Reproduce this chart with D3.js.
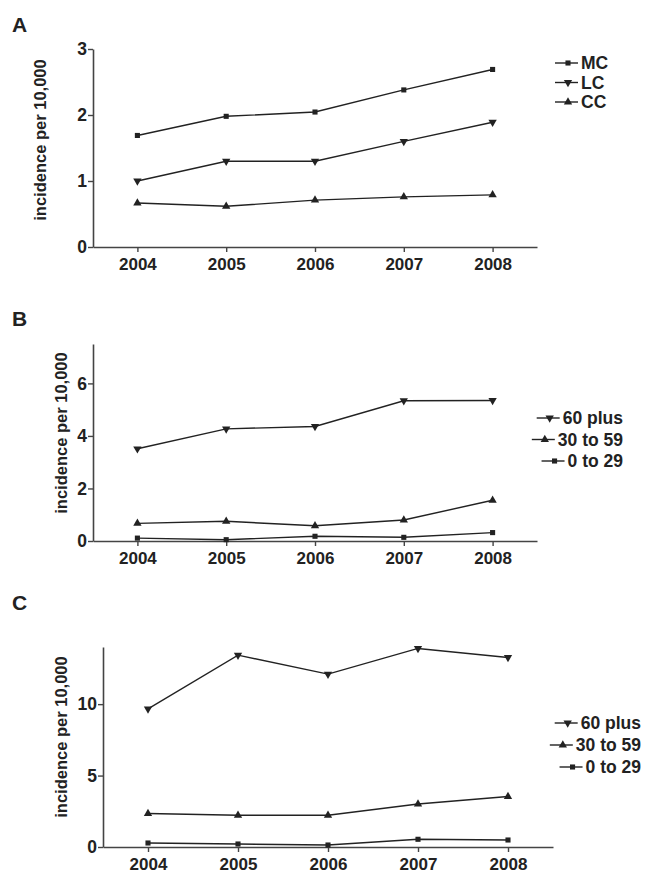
<!DOCTYPE html>
<html><head><meta charset="utf-8">
<script src="https://cdn.jsdelivr.net/npm/d3@7"></script>
<style>body{margin:0;background:#fff}svg{display:block}text{font-family:"Liberation Sans",Arial,sans-serif;font-weight:bold;fill:#222}</style>
</head><body><svg id="c" width="648" height="888"></svg>
<script>
const years = [2004, 2005, 2006, 2007, 2008];
// Panel A
const aMC = [1.69, 1.98, 2.045, 2.38, 2.69];
const aLC = [1.0, 1.30, 1.30, 1.60, 1.89];
const aCC = [0.667, 0.617, 0.71, 0.76, 0.79];
const aTicks = [0, 1, 2, 3];
// Panel B
const b60 = [3.51, 4.27, 4.36, 5.34, 5.35];
const b30 = [0.67, 0.75, 0.58, 0.80, 1.55];
const b0 = [0.11, 0.05, 0.18, 0.14, 0.32];
const bTicks = [0, 2, 4, 6];
// Panel C
const c60 = [9.67, 13.43, 12.1, 13.9, 13.27];
const c30 = [2.34, 2.22, 2.22, 3.01, 3.53];
const c0 = [0.28, 0.21, 0.14, 0.54, 0.49];
const cTicks = [0, 5, 10];
const yLabel = "incidence per 10,000";

const svg = d3.select("#c");
const ink = "#222";

function marker(type) {
  if (type === "square") return {p: d3.symbol(d3.symbolSquare, 26)(), r: 0};
  if (type === "up") return {p: d3.symbol(d3.symbolTriangle, 30)(), r: 0};
  return {p: d3.symbol(d3.symbolTriangle, 30)(), r: 180};
}

function panel(cfg) {
  const g = svg.append("g");
  const x = d3.scaleLinear().domain([2003.5, 2008.5]).range([cfg.x0, cfg.x1]);
  const y = d3.scaleLinear().domain([0, cfg.ymax]).range([cfg.y0, cfg.y1]);
  g.append("text").attr("x", 12).attr("y", cfg.labelY).attr("font-size", 21).text(cfg.label);
  const xa = g.append("g").attr("transform", `translate(0,${cfg.y0})`)
    .call(d3.axisBottom(x).tickValues(years).tickFormat(d3.format("d")).tickSize(5).tickSizeOuter(0));
  const ya = g.append("g").attr("transform", `translate(${cfg.x0},0)`)
    .call(d3.axisLeft(y).tickValues(cfg.ticks).tickFormat(d3.format("~g")).tickSize(5).tickSizeOuter(0));
  [xa, ya].forEach(a => {
    a.attr("font-family", null).attr("font-size", null);
    a.select(".domain").attr("stroke", "#444").attr("stroke-width", 1.6);
    a.selectAll(".tick line").attr("stroke", "#444").attr("stroke-width", 1.4);
  });
  xa.selectAll(".tick text").style("font-size", "17px").attr("dy", "1.0em").attr("y", 6);
  ya.selectAll(".tick text").style("font-size", "17.5px").attr("x", -6);
  g.append("text").attr("transform", `translate(${cfg.ylabX},${cfg.ylabY}) rotate(-90)`)
    .attr("text-anchor", "middle").style("font-size", "16.5px").text(yLabel);
  const line = d3.line().x((d, i) => x(years[i])).y(d => y(d));
  cfg.series.forEach(s => {
    g.append("path").attr("d", line(s.v)).attr("fill", "none").attr("stroke", ink).attr("stroke-width", 1.4);
    const m = marker(s.m);
    g.selectAll(null).data(s.v).join("path").attr("d", m.p)
      .attr("transform", (d, i) => `translate(${x(years[i])},${y(d)}) rotate(${m.r})`).attr("fill", ink);
  });
  // legend
  cfg.legend.items.forEach((k, i) => {
    const s = cfg.series.find(q => q.name === k);
    const ly = cfg.legend.y + i * cfg.legend.dy;
    const t = g.append("text").attr("y", ly).attr("dy", "0.36em").style("font-size", "17.5px").text(k);
    let tx;
    if (cfg.legend.anchor === "end") {
      t.attr("x", cfg.legend.x).attr("text-anchor", "end");
      tx = cfg.legend.x - t.node().getComputedTextLength();
    } else {
      t.attr("x", cfg.legend.x);
      tx = cfg.legend.x;
    }
    const lx1 = tx - 3, lx0 = lx1 - 23;
    g.append("line").attr("x1", lx0).attr("x2", lx1).attr("y1", ly).attr("y2", ly).attr("stroke", ink).attr("stroke-width", 1.4);
    const m = marker(s.m);
    g.append("path").attr("d", m.p).attr("fill", ink).attr("transform", `translate(${lx0 + 13},${ly}) rotate(${m.r})`);
  });
}

panel({label: "A", labelY: 32, x0: 93, x1: 537, y0: 247, y1: 49, ymax: 3, ticks: aTicks, ylabX: 46, ylabY: 140,
  series: [{name: "MC", v: aMC, m: "square"}, {name: "LC", v: aLC, m: "down"}, {name: "CC", v: aCC, m: "up"}],
  legend: {items: ["MC", "LC", "CC"], x: 581, y: 63, dy: 19.5, anchor: "start"}});
panel({label: "B", labelY: 326, x0: 93, x1: 537, y0: 541, y1: 344, ymax: 7.5, ticks: bTicks, ylabX: 67, ylabY: 433,
  series: [{name: "60 plus", v: b60, m: "down"}, {name: "30 to 59", v: b30, m: "up"}, {name: "0 to 29", v: b0, m: "square"}],
  legend: {items: ["60 plus", "30 to 59", "0 to 29"], x: 623, y: 418, dy: 21.5, anchor: "end"}});
panel({label: "C", labelY: 610, x0: 103, x1: 553, y0: 847, y1: 647, ymax: 14, ticks: cTicks, ylabX: 67, ylabY: 737,
  series: [{name: "60 plus", v: c60, m: "down"}, {name: "30 to 59", v: c30, m: "up"}, {name: "0 to 29", v: c0, m: "square"}],
  legend: {items: ["60 plus", "30 to 59", "0 to 29"], x: 641, y: 723, dy: 22, anchor: "end"}});
</script></body></html>
